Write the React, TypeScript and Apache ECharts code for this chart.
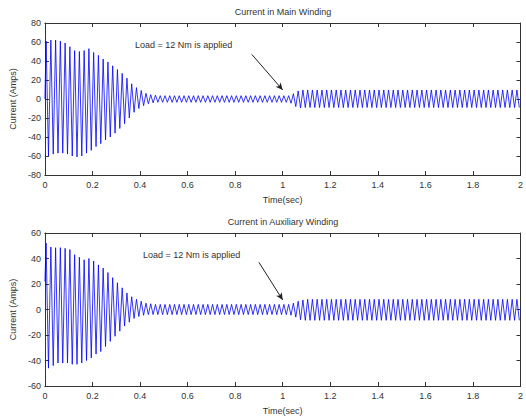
import React, { useEffect, useRef } from "react";
import * as echarts from "echarts";

// Sampling of the waveform: one value per half-cycle extreme (50 Hz supply)
const firstPeakTime = 0.005;
const halfPeriod = 0.01;

const mainStart = 0;
const auxStart = 22;

// Main winding current: positive peaks per cycle (Amps)
const mainPeaks = [
  61, 62, 62, 61, 59, 55, 51, 50, 51, 53,
  49, 46, 42, 39, 35, 31, 27, 22, 16, 12,
  9, 6, 4.5, 4, 3.5, 3.5, 3.5, 3.5, 3.5, 3.5,
  3.5, 3.5, 3.5, 3.5, 3.5, 3.5, 3.5, 3.5, 3.5, 3.5,
  3.5, 3.5, 3.5, 3.5, 3.5, 3.5, 3.5, 3.5, 3.5, 3.5,
  3.5, 3.5, 5.5, 8.5, 9.5, 9.5, 9.5, 9.5, 9.5, 9.5,
  9.5, 9.5, 9.5, 9.5, 9.5, 9.5, 9.5, 9.5, 9.5, 9.5,
  9.5, 9.5, 9.5, 9.5, 9.5, 9.5, 9.5, 9.5, 9.5, 9.5,
  9.5, 9.5, 9.5, 9.5, 9.5, 9.5, 9.5, 9.5, 9.5, 9.5,
  9.5, 9.5, 9.5, 9.5, 9.5, 9.5, 9.5, 9.5, 9.5, 9.5,
];
// Main winding current: negative peaks per cycle (Amps)
const mainTroughs = [
  -60, -58, -57, -57, -58, -60, -61, -60, -57, -54,
  -50, -47, -43, -40, -36, -31, -26, -20, -14, -10,
  -7, -5, -4, -3.5, -3.5, -3.5, -3.5, -3.5, -3.5, -3.5,
  -3.5, -3.5, -3.5, -3.5, -3.5, -3.5, -3.5, -3.5, -3.5, -3.5,
  -3.5, -3.5, -3.5, -3.5, -3.5, -3.5, -3.5, -3.5, -3.5, -3.5,
  -3.5, -4.5, -8, -9.5, -9, -9, -9, -9, -9, -9,
  -9, -9, -9, -9, -9, -9, -9, -9, -9, -9,
  -9, -9, -9, -9, -9, -9, -9, -9, -9, -9,
  -9, -9, -9, -9, -9, -9, -9, -9, -9, -9,
  -9, -9, -9, -9, -9, -9, -9, -9, -9, -9,
];

// Auxiliary winding current: positive peaks per cycle (Amps)
const auxPeaks = [
  52, 49, 48.5, 48.5, 48, 47, 43, 41, 39, 40,
  38, 35, 32.5, 29, 25, 21, 17, 13, 10, 8,
  6.5, 5, 4.5, 4, 4, 4, 4, 4, 4, 4,
  4, 4, 4, 4, 4, 4, 4, 4, 4, 4,
  4, 4, 4, 4, 4, 4, 4, 4, 4, 4,
  4, 4, 5, 6.5, 7.5, 8, 8, 8, 8, 8,
  8, 8, 8, 8, 8, 8, 8, 8, 8, 8,
  8, 8, 8, 8, 8, 8, 8, 8, 8, 8,
  8, 8, 8, 8, 8, 8, 8, 8, 8, 8,
  8, 8, 8, 8, 8, 8, 8, 8, 8, 8,
];
// Auxiliary winding current: negative peaks per cycle (Amps)
const auxTroughs = [
  -46, -44, -42, -42, -42, -43, -43, -42, -40, -38,
  -35, -33, -29, -25, -21, -17, -13, -10, -7, -5.5,
  -4.5, -4, -4, -4, -4, -4, -4, -4, -4, -4,
  -4, -4, -4, -4, -4, -4, -4, -4, -4, -4,
  -4, -4, -4, -4, -4, -4, -4, -4, -4, -4,
  -4, -4.5, -6, -8, -8.5, -8.5, -8.5, -8.5, -8.5, -8.5,
  -8.5, -8.5, -8.5, -8.5, -8.5, -8.5, -8.5, -8.5, -8.5, -8.5,
  -8.5, -8.5, -8.5, -8.5, -8.5, -8.5, -8.5, -8.5, -8.5, -8.5,
  -8.5, -8.5, -8.5, -8.5, -8.5, -8.5, -8.5, -8.5, -8.5, -8.5,
  -8.5, -8.5, -8.5, -8.5, -8.5, -8.5, -8.5, -8.5, -8.5, -8.5,
];

const titles = ["Current in Main Winding", "Current in Auxiliary Winding"];
const annotationText = "Load = 12 Nm is applied";
const xName = "Time(sec)";
const yName = "Current (Amps)";
const mainArrow = [[0.87, 47], [1.0, 9.5]];
const auxArrow = [[0.9, 37], [1.0, 7.5]];

function buildSeries(start: number, peaks: number[], troughs: number[]) {
  const pts: number[][] = [[0, start]];
  for (let k = 0; k < peaks.length; k++) {
    pts.push([firstPeakTime + 2 * k * halfPeriod, peaks[k]]);
    pts.push([firstPeakTime + (2 * k + 1) * halfPeriod, troughs[k]]);
  }
  return pts;
}

const FONT = "Liberation Sans, Arial, sans-serif";
const AX = "#333";

function xAxes(gridIndex: number) {
  const base = {
    gridIndex,
    type: "value" as const,
    min: 0,
    max: 2,
    interval: 0.2,
    splitLine: { show: false },
    axisLine: { onZero: false, lineStyle: { color: AX, width: 1 } },
    axisTick: { inside: true, length: 4, lineStyle: { color: AX } },
  };
  return [
    {
      ...base,
      position: "bottom",
      axisLabel: {
        fontSize: 9,
        fontFamily: FONT,
        color: "#333",
        margin: 5,
        formatter: (v: number) => String(Number(v.toFixed(1))),
      },
      name: xName,
      nameLocation: "middle",
      nameGap: 20,
      nameTextStyle: { fontSize: 9, fontFamily: FONT, color: "#333" },
    },
    { ...base, position: "top", axisLabel: { show: false } },
  ];
}

function yAxes(gridIndex: number, lim: number) {
  const base = {
    gridIndex,
    type: "value" as const,
    min: -lim,
    max: lim,
    interval: 20,
    splitLine: { show: false },
    axisLine: { onZero: false, lineStyle: { color: AX, width: 1 } },
    axisTick: { inside: true, length: 4, lineStyle: { color: AX } },
  };
  return [
    {
      ...base,
      position: "left",
      axisLabel: { fontSize: 9, fontFamily: FONT, color: "#333", margin: 4 },
      name: yName,
      nameLocation: "middle",
      nameGap: 24,
      nameRotate: 90,
      nameTextStyle: { fontSize: 9, fontFamily: FONT, color: "#333" },
    },
    { ...base, position: "right", axisLabel: { show: false } },
  ];
}

function arrowMarkLine(coords: number[][]) {
  return {
    silent: true,
    symbol: ["none", "arrow"],
    symbolSize: [5, 7],
    label: { show: false },
    lineStyle: { color: "#222", width: 1, type: "solid" },
    data: [[{ coord: coords[0] }, { coord: coords[1] }]],
  };
}

export default function App() {
  const ref = useRef<HTMLDivElement>(null);
  useEffect(() => {
    document.body.style.margin = "0";
    const chart = echarts.init(ref.current!, undefined, { renderer: "svg" });
    const textStyle = (x: number, y: number, text: string, align: string) => ({
      type: "text",
      x,
      y,
      style: {
        text,
        fontSize: 9,
        fontFamily: FONT,
        fill: "#333",
        align,
        verticalAlign: "middle",
      },
    });
    chart.setOption({
      animation: false,
      backgroundColor: "#fff",
      grid: [
        { left: 43, top: 23, width: 481, height: 152 },
        { left: 43, top: 233, width: 481, height: 153 },
      ],
      xAxis: [...xAxes(0), ...xAxes(1)],
      yAxis: [...yAxes(0, 80), ...yAxes(1, 60)],
      series: [
        {
          type: "line",
          xAxisIndex: 0,
          yAxisIndex: 0,
          symbol: "none",
          lineStyle: { color: "#0000ff", width: 0.8 },
          data: buildSeries(mainStart, mainPeaks, mainTroughs),
          markLine: arrowMarkLine(mainArrow),
        },
        {
          type: "line",
          xAxisIndex: 2,
          yAxisIndex: 2,
          symbol: "none",
          lineStyle: { color: "#0000ff", width: 0.8 },
          data: buildSeries(auxStart, auxPeaks, auxTroughs),
          markLine: arrowMarkLine(auxArrow),
        },
      ],
      graphic: [
        textStyle(283, 12, titles[0], "center"),
        textStyle(283, 222, titles[1], "center"),
        textStyle(135, 45, annotationText, "left"),
        textStyle(143, 255, annotationText, "left"),
      ],
    });
    return () => chart.dispose();
  }, []);
  return <div ref={ref} style={{ width: 526, height: 417 }} />;
}
